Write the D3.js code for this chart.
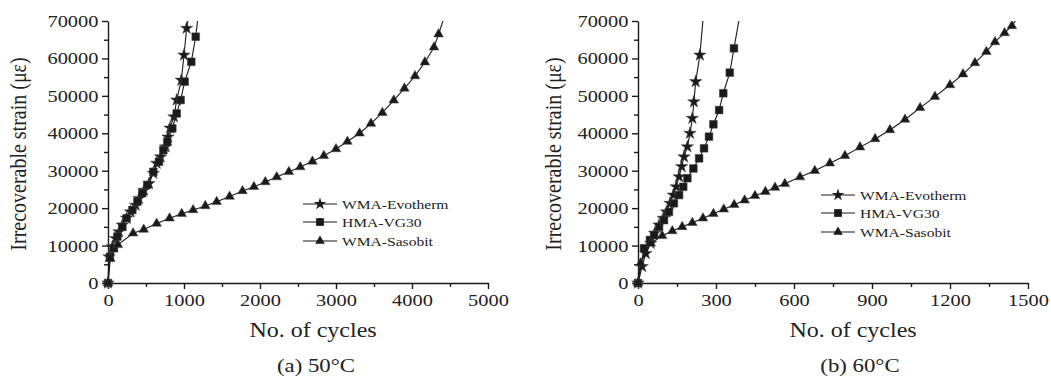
<!DOCTYPE html>
<html>
<head>
<meta charset="utf-8">
<script src="https://cdn.jsdelivr.net/npm/d3@7"></script>
<style>
  body { margin: 0; background: #fff; }
  svg text { font-family: "Liberation Serif", "Times New Roman", serif; fill: #222; }
</style>
</head>
<body>
<svg id="chart" width="1051" height="380"></svg>
<script>
// (a) 50°C
const evoA_x = [0, 13, 57, 101, 145, 189, 245, 298, 364, 408, 474, 540, 596, 640, 693, 759, 790, 816, 868, 904, 965, 1000, 1035, 1065];
const evoA_y = [0, 7000, 9700, 11900, 13700, 15500, 17300, 19000, 20800, 22600, 24800, 26600, 29300, 32000, 33700, 36400, 39000, 41400, 44400, 48900, 54200, 60900, 68050, 72000];
const vgA_x = [0, 26, 79, 123, 189, 245, 320, 386, 451, 517, 596, 671, 728, 780, 846, 904, 956, 1009, 1096, 1154, 1190];
const vgA_y = [0, 7000, 9300, 12400, 15000, 17300, 19500, 21700, 24000, 26200, 29700, 32400, 35500, 37750, 41300, 45300, 48900, 53800, 59100, 65800, 72000];
const sasA_x = [0, 30, 130, 330, 470, 640, 810, 970, 1120, 1280, 1430, 1600, 1770, 1920, 2070, 2220, 2380, 2530, 2690, 2840, 3000, 3150, 3310, 3460, 3610, 3760, 3900, 4040, 4170, 4290, 4350, 4440];
const sasA_y = [0, 6500, 10200, 13300, 14300, 15900, 17300, 18500, 19500, 20600, 21700, 23100, 24600, 25700, 27000, 28300, 29700, 31000, 32500, 34000, 35800, 37800, 40000, 42600, 45500, 48800, 52000, 55300, 59000, 63000, 66500, 72000];

// (b) 60°C
const evoB_x = [0, 16, 30, 49, 64, 81, 97, 110, 123, 136, 147, 158, 168, 177, 190, 200, 209, 215, 222, 238, 252];
const evoB_y = [0, 4400, 7900, 10600, 13300, 15500, 17300, 19000, 21300, 23500, 25700, 28400, 31100, 33700, 36400, 40000, 44000, 48400, 53800, 60900, 72000];
const vgB_x = [0, 23, 46, 62, 81, 100, 119, 138, 158, 174, 190, 213, 235, 254, 273, 290, 312, 328, 353, 369, 393];
const vgB_y = [0, 9300, 11500, 12800, 15000, 16800, 19000, 21300, 23500, 25700, 28000, 30600, 33300, 36000, 39100, 42400, 46200, 50700, 56200, 62700, 72000];
const sasB_x = [0, 10, 49, 93, 132, 170, 209, 250, 290, 330, 370, 410, 450, 490, 527, 565, 623, 680, 738, 796, 854, 912, 969, 1027, 1085, 1142, 1200, 1250, 1296, 1340, 1373, 1410, 1438, 1470];
const sasB_y = [0, 5300, 10600, 12600, 13900, 15000, 16100, 17300, 18500, 19700, 20900, 22100, 23300, 24400, 25500, 26500, 28300, 30000, 32000, 34000, 36300, 38500, 40900, 43700, 46800, 49800, 52900, 55800, 58800, 61800, 64400, 66800, 68700, 72000];

const seriesNames = ["WMA-Evotherm", "HMA-VG30", "WMA-Sasobit"];
const yTicks = [0, 10000, 20000, 30000, 40000, 50000, 60000, 70000];
const xTicksA = [0, 1000, 2000, 3000, 4000, 5000];
const xTicksB = [0, 300, 600, 900, 1200, 1500];

const svg = d3.select("#chart");
const ink = "#1a1a1a";
const serif = "Liberation Serif, Times New Roman, serif";
const shapes = [d3.symbolStar, d3.symbolSquare, d3.symbolTriangle];
const sizes = [48, 60, 40];

function zip(xs, ys) { return xs.map((x, i) => [x, ys[i]]); }

const panels = [
  {
    id: "a", xMax: 5000, xTicks: xTicksA, minorStep: 500,
    left: 108, right: 488, ylab: 19.5, xlabX: 313, capX: 316, caption: "(a) 50°C",
    legX: 303, legY: [204, 222, 241],
    series: [zip(evoA_x, evoA_y), zip(vgA_x, vgA_y), zip(sasA_x, sasA_y)]
  },
  {
    id: "b", xMax: 1500, xTicks: xTicksB, minorStep: 150,
    left: 638, right: 1028, ylab: 555, xlabX: 853, capX: 860, caption: "(b) 60°C",
    legX: 821, legY: [195, 213, 232],
    series: [zip(evoB_x, evoB_y), zip(vgB_x, vgB_y), zip(sasB_x, sasB_y)]
  }
];

const plotTop = 21, plotBottom = 283;
const y = d3.scaleLinear().domain([0, 70000]).range([plotBottom, plotTop]);
const fmt = d3.format("d");

panels.forEach(p => {
  const x = d3.scaleLinear().domain([0, p.xMax]).range([p.left, p.right]);
  const g = svg.append("g");

  g.append("clipPath").attr("id", "clip-" + p.id)
    .append("rect").attr("x", p.left - 20).attr("y", plotTop).attr("width", p.right - p.left + 40).attr("height", 400);

  // minor ticks
  g.append("g").attr("transform", `translate(${p.left},0)`)
    .call(d3.axisLeft(y).tickValues(d3.range(5000, 70000, 10000)).tickSize(4).tickFormat(""))
    .call(s => s.select(".domain").remove());
  g.append("g").attr("transform", `translate(0,${plotBottom})`)
    .call(d3.axisBottom(x).tickValues(d3.range(p.minorStep, p.xMax, p.minorStep * 2)).tickSize(4).tickFormat(""))
    .call(s => s.select(".domain").remove());

  // major axes
  g.append("g").attr("transform", `translate(${p.left},0)`)
    .call(d3.axisLeft(y).tickValues(yTicks).tickFormat(fmt).tickSize(6).tickSizeOuter(0).tickPadding(2))
    .attr("font-family", serif)
    .call(s => s.selectAll("text").attr("font-size", 17).attr("transform", "scale(1.2,1)"));
  g.append("g").attr("transform", `translate(0,${plotBottom})`)
    .call(d3.axisBottom(x).tickValues(p.xTicks).tickFormat(fmt).tickSize(6).tickSizeOuter(0).tickPadding(5))
    .attr("font-family", serif)
    .call(s => s.selectAll("text").attr("font-size", 17).attr("transform", "scale(1.2,1)"));
  g.selectAll(".domain, .tick line").attr("stroke", ink).attr("stroke-width", 1.4);
  g.selectAll(".tick text").attr("fill", "#222");

  // data
  const line = d3.line().x(d => x(d[0])).y(d => y(d[1]));
  const plot = g.append("g").attr("clip-path", `url(#clip-${p.id})`);
  p.series.forEach((data, i) => {
    plot.append("path").datum(data).attr("d", line)
      .attr("fill", "none").attr("stroke", ink).attr("stroke-width", 1.1);
    plot.selectAll(null).data(data).enter().append("path")
      .attr("d", d3.symbol().type(shapes[i]).size(sizes[i]))
      .attr("transform", d => `translate(${x(d[0])},${y(d[1])})`)
      .attr("fill", ink).attr("stroke", "#444").attr("stroke-width", 0.5);
  });

  // legend
  seriesNames.forEach((name, i) => {
    const ly = p.legY[i];
    g.append("line").attr("x1", p.legX).attr("x2", p.legX + 34).attr("y1", ly).attr("y2", ly)
      .attr("stroke", ink).attr("stroke-width", 1.1);
    g.append("path").attr("d", d3.symbol().type(shapes[i]).size(sizes[i])())
      .attr("transform", `translate(${p.legX + 17},${ly})`).attr("fill", ink);
    g.append("text").attr("transform", `translate(${p.legX + 39},${ly + 4.5}) scale(1.2,1)`)
      .attr("font-size", 13).text(name);
  });

  // titles
  g.append("text").attr("transform", `translate(${p.ylab + 6},154) rotate(-90) scale(1,1.2)`)
    .attr("text-anchor", "middle").attr("font-size", 20).text("Irrecoverable strain (με)");
  g.append("text").attr("transform", `translate(${p.xlabX},337) scale(1.2,1)`)
    .attr("text-anchor", "middle").attr("font-size", 20).text("No. of cycles");
  g.append("text").attr("transform", `translate(${p.capX},372) scale(1.2,1)`)
    .attr("text-anchor", "middle").attr("font-size", 19).text(p.caption);
});
</script>
</body>
</html>
